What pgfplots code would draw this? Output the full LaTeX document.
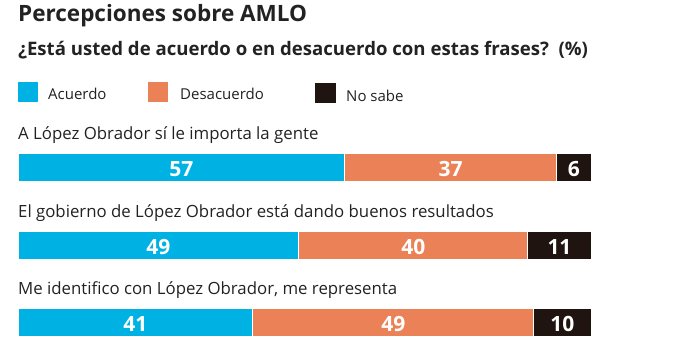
\documentclass[border=0pt]{standalone}
\usepackage{pgfplots}
\pgfplotsset{compat=1.18}
\usepackage{fontspec}
\setmainfont{Open Sans}
\definecolor{cAc}{HTML}{00B2E3}
\definecolor{cDe}{HTML}{EB8257}
\definecolor{cNs}{HTML}{1F1410}
\definecolor{txt}{HTML}{222222}
\pgfplotstableread{
x y
57 168
49 246
41 323
}\tAc
\pgfplotstableread{
x y
37 168
40 246
49 323
}\tDe
\pgfplotstableread{
x y
6 168
11 246
10 323
}\tNs
% label positions (segment centres) and values
\pgfplotstableread{
x y v
28.5 169 57
75.5 169 37
97 169 6
24.5 247 49
69 247 40
94.5 247 11
20.5 324 41
65.5 324 49
95 324 10
}\tLab
\begin{document}
\begin{tikzpicture}[x=1pt,y=1pt]
\path (0,0) rectangle (696,355);
% titles
\node[anchor=base west,inner sep=0,text=txt] at (18,355-22) {\fontsize{22.5}{26}\selectfont\bfseries Percepciones sobre AMLO};
\node[anchor=base west,inner sep=0,text=txt] at (18,355-56) {\fontsize{18.6}{22}\selectfont\bfseries ¿Está usted de acuerdo o en desacuerdo con estas frases?\ \ (\%)};
% legend
\fill[cAc] (18,355-102) rectangle (38,355-82);
\node[anchor=base west,inner sep=0,text=txt] at (48,355-100) {\fontsize{15}{18}\selectfont Acuerdo};
\fill[cDe] (148,355-102) rectangle (168,355-82);
\node[anchor=base west,inner sep=0,text=txt] at (180,355-100) {\fontsize{15}{18}\selectfont Desacuerdo};
\fill[cNs] (315,355-103) rectangle (336,355-83);
\node[anchor=base west,inner sep=0,text=txt] at (346,355-102) {\fontsize{15}{18}\selectfont No sabe};
\pgfplotsset{myax/.style={
  at={(18pt,0pt)}, anchor=south west,
  width=573pt, height=255pt, scale only axis,
  xmin=0, xmax=100, ymin=100, ymax=355, y dir=reverse,
  axis lines=none, clip=false}}
\begin{axis}[myax, xbar stacked, bar width=28pt]
\addplot[fill=cAc, draw=white, line width=1pt] table[x=x,y=y] {\tAc};
\addplot[fill=cDe, draw=white, line width=1pt] table[x=x,y=y] {\tDe};
\addplot[fill=cNs, draw=white, line width=1pt] table[x=x,y=y] {\tNs};
\node[anchor=base west, inner sep=0, text=txt, font=\fontsize{16.8}{20}\selectfont] at (axis cs:0,140) {A López Obrador sí le importa la gente};
\node[anchor=base west, inner sep=0, text=txt, font=\fontsize{16.8}{20}\selectfont] at (axis cs:0,217.5) {El gobierno de López Obrador está dando buenos resultados};
\node[anchor=base west, inner sep=0, text=txt, font=\fontsize{16.8}{20}\selectfont] at (axis cs:0,295) {Me identifico con López Obrador, me representa};
\end{axis}
\begin{axis}[myax]
\addplot[only marks, mark=none, point meta=explicit symbolic,
  nodes near coords={\pgfplotspointmeta},
  every node near coord/.append style={anchor=center, inner sep=0, text=white, font=\fontsize{21}{24}\selectfont\bfseries}]
  table[x=x,y=y,meta=v] {\tLab};
\end{axis}
\end{tikzpicture}
\end{document}
